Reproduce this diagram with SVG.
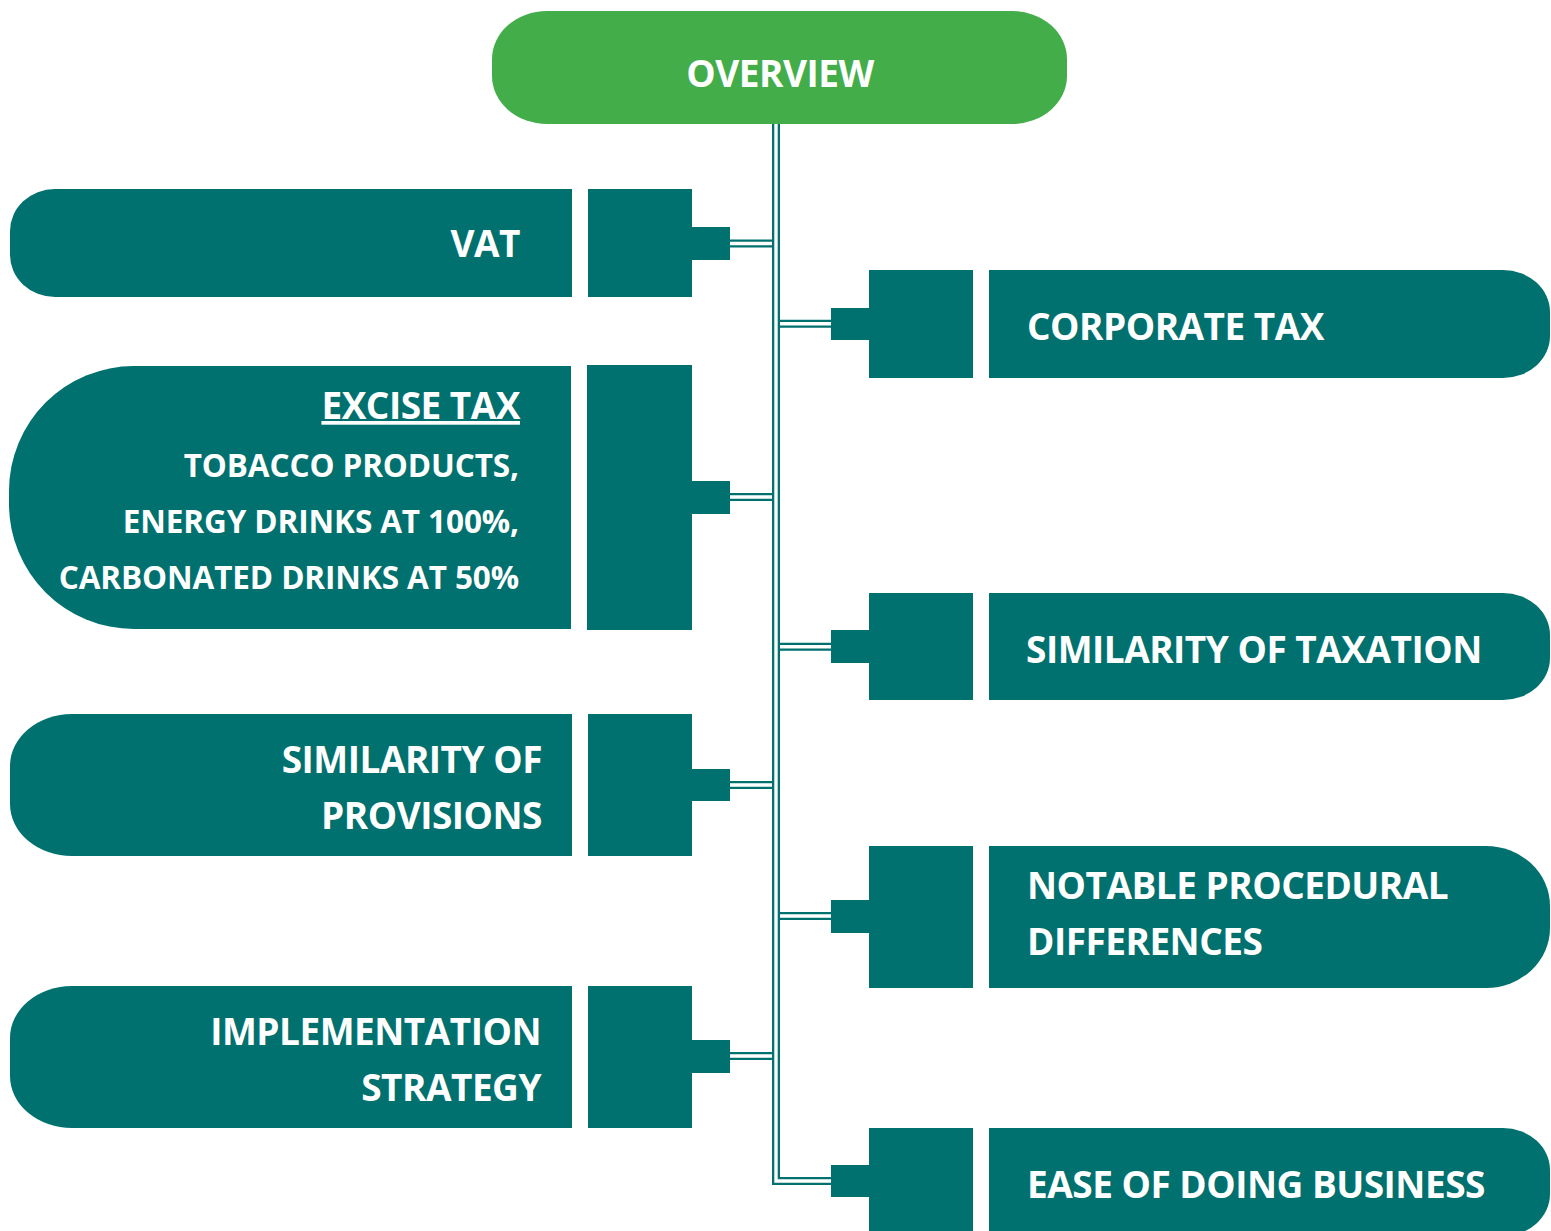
<svg xmlns="http://www.w3.org/2000/svg" width="1551" height="1231" viewBox="0 0 1551 1231">
  <style>
    .teal { fill: #00716E; }
    .green { fill: #43AD4A; }
    .wire-outer { fill: none; stroke: #00716E; stroke-width: 8; stroke-linejoin: miter; }
    .wire-inner { fill: none; stroke: #FFFFFF; stroke-width: 3.4; stroke-linejoin: miter; }
    .lbl { fill: #FFFFFF; font-family: "Open Sans", "Liberation Sans", sans-serif; font-weight: 700; font-size: 37px; letter-spacing: -0.5px; }
    .sub { font-size: 31.5px; letter-spacing: -0.1px; }
    .end { text-anchor: end; }
    .mid { text-anchor: middle; }
  </style>

  <rect width="1551" height="1231" fill="#FFFFFF"/>

  <!-- connectors: branch wires first, trunk on top -->
  <g id="connectors">
    <path class="wire-outer" d="M730,243.5 H773 M730,497 H773 M730,785 H773 M730,1056 H773 M779,323.7 H832 M779,646.8 H832 M779,916 H832"/>
    <path class="wire-inner" d="M730,243.5 H773 M730,497 H773 M730,785 H773 M730,1056 H773 M779,323.7 H832 M779,646.8 H832 M779,916 H832"/>
    <path class="wire-outer" d="M776,124 V1181 H832"/>
    <path class="wire-inner" d="M776,124 V1181 H832"/>
  </g>

  <g id="overview">
    <rect class="green" x="492" y="11" width="575" height="113" rx="55" ry="48"/>
    <text class="lbl mid" x="780" y="87">OVERVIEW</text>
  </g>

  <g id="vat">
    <path class="teal" d="M572,189 V297 H55 A45,42 0 0 1 10,255 V231 A45,42 0 0 1 55,189 Z"/>
    <rect class="teal" x="588" y="189" width="104" height="108"/>
    <rect class="teal" x="691" y="227" width="39" height="33"/>
    <text class="lbl end" x="520" y="257">VAT</text>
  </g>

  <g id="excise-tax">
    <path class="teal" d="M571,366 V629 H134 A125,125 0 0 1 9,504 V491 A125,125 0 0 1 134,366 Z"/>
    <rect class="teal" x="587" y="365" width="105" height="265"/>
    <rect class="teal" x="691" y="481" width="39" height="33"/>
    <text class="lbl end" x="520" y="419" font-size="34.5" text-decoration="underline">EXCISE TAX</text>
    <text class="lbl sub end" x="519" y="477">TOBACCO PRODUCTS,</text>
    <text class="lbl sub end" x="519" y="533">ENERGY DRINKS AT 100%,</text>
    <text class="lbl sub end" x="519" y="589">CARBONATED DRINKS AT 50%</text>
  </g>

  <g id="similarity-of-provisions">
    <path class="teal" d="M572,714 V856 H72 A62,52 0 0 1 10,804 V766 A62,52 0 0 1 72,714 Z"/>
    <rect class="teal" x="588" y="714" width="104" height="142"/>
    <rect class="teal" x="691" y="769" width="39" height="32"/>
    <text class="lbl end" x="542" y="773">SIMILARITY OF</text>
    <text class="lbl end" x="542" y="829">PROVISIONS</text>
  </g>

  <g id="implementation-strategy">
    <path class="teal" d="M572,986 V1128 H72 A62,52 0 0 1 10,1076 V1038 A62,52 0 0 1 72,986 Z"/>
    <rect class="teal" x="588" y="986" width="104" height="142"/>
    <rect class="teal" x="691" y="1040" width="39" height="33"/>
    <text class="lbl end" x="541" y="1045">IMPLEMENTATION</text>
    <text class="lbl end" x="541" y="1101">STRATEGY</text>
  </g>

  <g id="corporate-tax">
    <rect class="teal" x="831" y="308" width="39" height="32"/>
    <rect class="teal" x="869" y="270" width="104" height="108"/>
    <path class="teal" d="M989,270 H1503 A47,42 0 0 1 1550,312 V336 A47,42 0 0 1 1503,378 H989 Z"/>
    <text class="lbl" x="1027" y="340">CORPORATE TAX</text>
  </g>

  <g id="similarity-of-taxation">
    <rect class="teal" x="831" y="630" width="39" height="33"/>
    <rect class="teal" x="869" y="593" width="104" height="107"/>
    <path class="teal" d="M989,593 H1503 A47,42 0 0 1 1550,635 V658 A47,42 0 0 1 1503,700 H989 Z"/>
    <text class="lbl" x="1026" y="663">SIMILARITY OF TAXATION</text>
  </g>

  <g id="notable-procedural-differences">
    <rect class="teal" x="831" y="900" width="39" height="33"/>
    <rect class="teal" x="869" y="846" width="104" height="142"/>
    <path class="teal" d="M989,846 H1486 A64,60 0 0 1 1550,906 V928 A64,60 0 0 1 1486,988 H989 Z"/>
    <text class="lbl" x="1027" y="899">NOTABLE PROCEDURAL</text>
    <text class="lbl" x="1027" y="955">DIFFERENCES</text>
  </g>

  <g id="ease-of-doing-business">
    <rect class="teal" x="831" y="1165" width="39" height="32"/>
    <rect class="teal" x="869" y="1128" width="104" height="108"/>
    <path class="teal" d="M989,1128 H1503 A47,42 0 0 1 1550,1170 V1194 A47,42 0 0 1 1503,1236 H989 Z"/>
    <text class="lbl" x="1027" y="1198">EASE OF DOING BUSINESS</text>
  </g>
</svg>
